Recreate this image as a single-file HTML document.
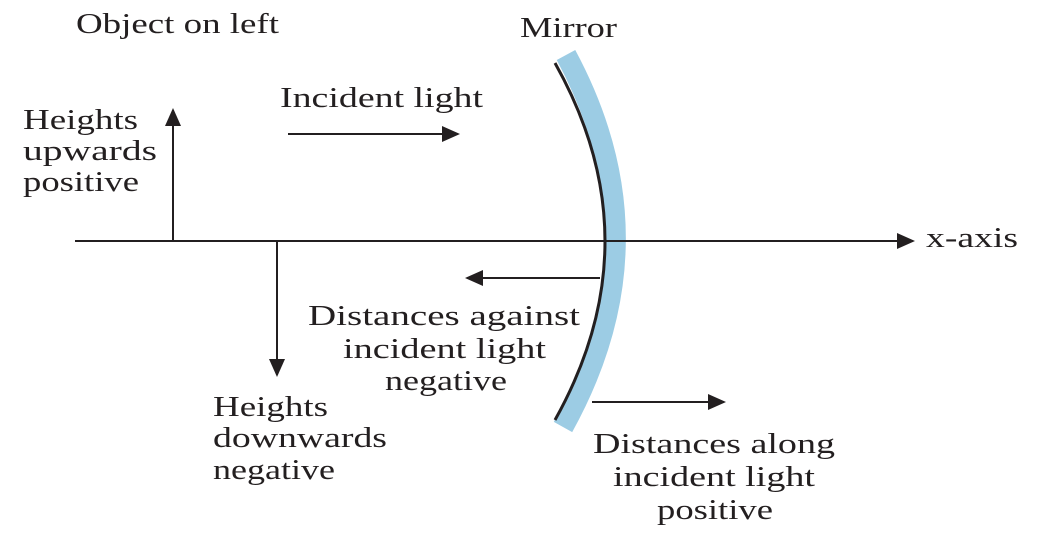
<!DOCTYPE html>
<html><head><style>
body{margin:0;background:#fff;}
svg{display:block}
text{font-family:"Liberation Serif",serif;font-size:29px;fill:#231f20}
</style></head><body>
<svg width="1041" height="535" viewBox="0 0 1041 535">
<defs>
<marker id="b" markerWidth="18" markerHeight="16" refX="16" refY="8" orient="auto" markerUnits="userSpaceOnUse" viewBox="0 0 18 16"><path d="M0,0 L18,8 L0,16 z" fill="#231f20"/></marker></defs>
<path d="M566,55 Q666,241 563,427" stroke="#9ccce4" stroke-width="21" fill="none"/>
<path d="M555,63 Q655,241 555,420" stroke="#231f20" stroke-width="3" fill="none"/>
<g stroke="#231f20" stroke-width="2" fill="none" marker-end="url(#b)">
<line x1="75" y1="241" x2="913" y2="241"/>
<line x1="173" y1="241" x2="173" y2="110"/>
<line x1="277" y1="241" x2="277" y2="375"/>
<line x1="288" y1="134" x2="458" y2="134"/>
<line x1="600" y1="278" x2="467" y2="278"/>
<line x1="592" y1="402" x2="724" y2="402"/>
</g>
<g lengthAdjust="spacingAndGlyphs">
<text x="76" y="33" textLength="203" lengthAdjust="spacingAndGlyphs">Object on left</text>
<text x="520" y="37" textLength="97" lengthAdjust="spacingAndGlyphs">Mirror</text>
<text x="280" y="107" textLength="203" lengthAdjust="spacingAndGlyphs">Incident light</text>
<text x="23" y="129" textLength="115" lengthAdjust="spacingAndGlyphs">Heights</text>
<text x="23" y="160" textLength="134" lengthAdjust="spacingAndGlyphs">upwards</text>
<text x="23" y="191" textLength="116" lengthAdjust="spacingAndGlyphs">positive</text>
<text x="926" y="247" textLength="92" lengthAdjust="spacingAndGlyphs">x-axis</text>
<text x="308" y="325" textLength="272" lengthAdjust="spacingAndGlyphs">Distances against</text>
<text x="343" y="358" textLength="203" lengthAdjust="spacingAndGlyphs">incident light</text>
<text x="385" y="390" textLength="122" lengthAdjust="spacingAndGlyphs">negative</text>
<text x="213" y="416" textLength="115" lengthAdjust="spacingAndGlyphs">Heights</text>
<text x="213" y="447" textLength="174" lengthAdjust="spacingAndGlyphs">downwards</text>
<text x="213" y="479" textLength="122" lengthAdjust="spacingAndGlyphs">negative</text>
<text x="593" y="453" textLength="242" lengthAdjust="spacingAndGlyphs">Distances along</text>
<text x="613" y="486" textLength="202" lengthAdjust="spacingAndGlyphs">incident light</text>
<text x="657" y="519" textLength="116" lengthAdjust="spacingAndGlyphs">positive</text>
</g>
</svg>
</body></html>
